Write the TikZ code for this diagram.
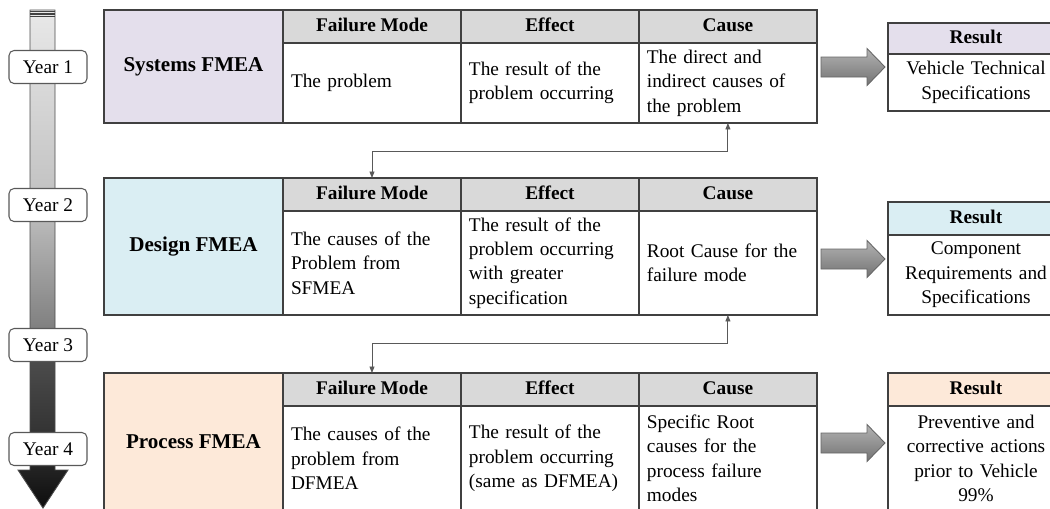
\documentclass[tikz,border=0pt]{standalone}
\usepackage{fontspec}
\setmainfont{Liberation Serif}
\usetikzlibrary{positioning,arrows.meta,calc}
\definecolor{bord}{HTML}{404040}
\definecolor{hdr}{HTML}{D9D9D9}
\definecolor{csys}{HTML}{E4DFEC}
\definecolor{cdes}{HTML}{DAEEF3}
\definecolor{cproc}{HTML}{FDE9D9}
\definecolor{conn}{HTML}{595959}
\pgfdeclareverticalshading{timeshade}{100bp}{color(0bp)=(black!95); color(25bp)=(black!95);
  color(31bp)=(black!82); color(40bp)=(black!70); color(43bp)=(black!50); color(55bp)=(black!25);
  color(75bp)=(black!9); color(100bp)=(black!9)}
\tikzset{
  tcell/.style={draw=bord, line width=0.8pt, rectangle, outer sep=0pt, inner ysep=0pt},
  titlecell/.style={tcell, anchor=north west, align=center, minimum width=35.8mm,
                    font=\fontsize{12}{14}\selectfont\bfseries},
  hdrcell/.style={tcell, fill=hdr, align=center, minimum width=35.6mm, minimum height=6.6mm,
                  text height=0.7em, text depth=0.08em, font=\fontsize{11}{13}\selectfont\bfseries},
  bodycell/.style={tcell, fill=white, align=left, text width=32.4mm, inner xsep=1.6mm,
                   font=\fontsize{11}{13.9}\selectfont},
  reshdr/.style={tcell, anchor=north west, align=center, minimum width=35.2mm,
                 text height=0.7em, text depth=0.08em, font=\fontsize{11}{13}\selectfont\bfseries},
  resbody/.style={tcell, fill=white, align=center, text width=33.2mm, inner xsep=1mm,
                  font=\fontsize{11}{13.9}\selectfont},
  yearbox/.style={draw=black!65, line width=0.6pt, rounded corners=1mm, fill=white,
                  minimum width=15.6mm, minimum height=6.6mm, inner sep=0pt,
                  font=\fontsize{11}{13}\selectfont},
  blockarr/.style={draw=black!60, line width=0.5pt, top color=black!30, bottom color=black!55},
  % ---- elbow link between tables ----
  link/.style={{Triangle[length=1.3mm,width=1mm]}-{Triangle[length=1.3mm,width=1mm]},
    line width=0.5pt, draw=conn,
    to path={(\tikztostart) -- ++(0,28) -| (\tikztotarget)}},
}

\begin{document}
\begin{tikzpicture}[x=0.02cm, y=-0.02cm]
\useasboundingbox (0,0) rectangle (1050,508);
\clip (0,0) rectangle (1050,508);
% timeline
\shade[shading=timeshade, draw=black!70, line width=0.5pt]
  (30,10) -- (55,10) -- (55,470) -- (68,470) -- (43,508) -- (18,470) -- (30,470) -- cycle;
\foreach \s in {11.5,14,16.5}{ \draw[black!75, line width=0.7pt] (30,\s) -- (55,\s); }
\node[yearbox] (y1) at (48,67) {Year 1};
\node[yearbox] (y2) at (48,205) {Year 2};
\node[yearbox] (y3) at (48,345) {Year 3};
\node[yearbox] (y4) at (48,449) {Year 4};
% systems FMEA
\node[titlecell, fill=csys, minimum height=22.6mm] (sysT) at (104,10) {Systems FMEA};
\node[hdrcell, anchor=north west] (sysFMh) at (283,10) {Failure Mode};
\node[hdrcell, right=0pt of sysFMh] (sysEfh) {Effect};
\node[hdrcell, right=0pt of sysEfh] (sysCah) {Cause};
\node[bodycell, minimum height=16mm, below=0pt of sysFMh] (sysFM) {The problem};
\node[bodycell, minimum height=16mm, below=0pt of sysEfh] (sysEf) {The result of the\\problem occurring};
\node[bodycell, minimum height=16mm, below=0pt of sysCah] (sysCa) {The direct and\\indirect causes of\\the problem};
\node[reshdr, fill=csys, minimum height=6.2mm] (sysRh) at (888,23) {Result};
\node[resbody, minimum height=11.4mm, below=0pt of sysRh] (sysR) {Vehicle Technical\\Specifications};
% design FMEA
\node[titlecell, fill=cdes, minimum height=27.4mm] (desT) at (104,178) {Design FMEA};
\node[hdrcell, anchor=north west] (desFMh) at (283,178) {Failure Mode};
\node[hdrcell, right=0pt of desFMh] (desEfh) {Effect};
\node[hdrcell, right=0pt of desEfh] (desCah) {Cause};
\node[bodycell, minimum height=20.8mm, below=0pt of desFMh] (desFM) {The causes of the\\Problem from\\SFMEA};
\node[bodycell, minimum height=20.8mm, below=0pt of desEfh] (desEf) {The result of the\\problem occurring\\with greater\\specification};
\node[bodycell, minimum height=20.8mm, below=0pt of desCah] (desCa) {Root Cause for the\\failure mode};
\node[reshdr, fill=cdes, minimum height=6.6mm] (desRh) at (888,202) {Result};
\node[resbody, minimum height=16mm, below=0pt of desRh] (desR) {Component\\Requirements and\\Specifications};
% process FMEA
\node[titlecell, fill=cproc, minimum height=27.6mm] (procT) at (104,373) {Process FMEA};
\node[hdrcell, anchor=north west] (procFMh) at (283,373) {Failure Mode};
\node[hdrcell, right=0pt of procFMh] (procEfh) {Effect};
\node[hdrcell, right=0pt of procEfh] (procCah) {Cause};
\node[bodycell, minimum height=21mm, below=0pt of procFMh] (procFM) {The causes of the\\problem from\\DFMEA};
\node[bodycell, minimum height=21mm, below=0pt of procEfh] (procEf) {The result of the\\problem occurring\\(same as DFMEA)};
\node[bodycell, minimum height=21mm, below=0pt of procCah] (procCa) {Specific Root\\causes for the\\process failure\\modes};
\node[reshdr, fill=cproc, minimum height=6.6mm] (procRh) at (888,373) {Result};
\node[resbody, minimum height=21mm, below=0pt of procRh] (procR) {Preventive and\\corrective actions\\prior to Vehicle\\99\%};
% block arrows to results
\foreach \yy in {67,259,443}{
  \draw[blockarr] (821,\yy-10) -- (867,\yy-10) -- (867,\yy-18.5) -- (885,\yy)
    -- (867,\yy+18.5) -- (867,\yy+10) -- (821,\yy+10) -- cycle;
}
% links
\draw[link] (sysCa.south) to (desFMh.north);
\draw[link] (desCa.south) to (procFMh.north);
\end{tikzpicture}
\end{document}
